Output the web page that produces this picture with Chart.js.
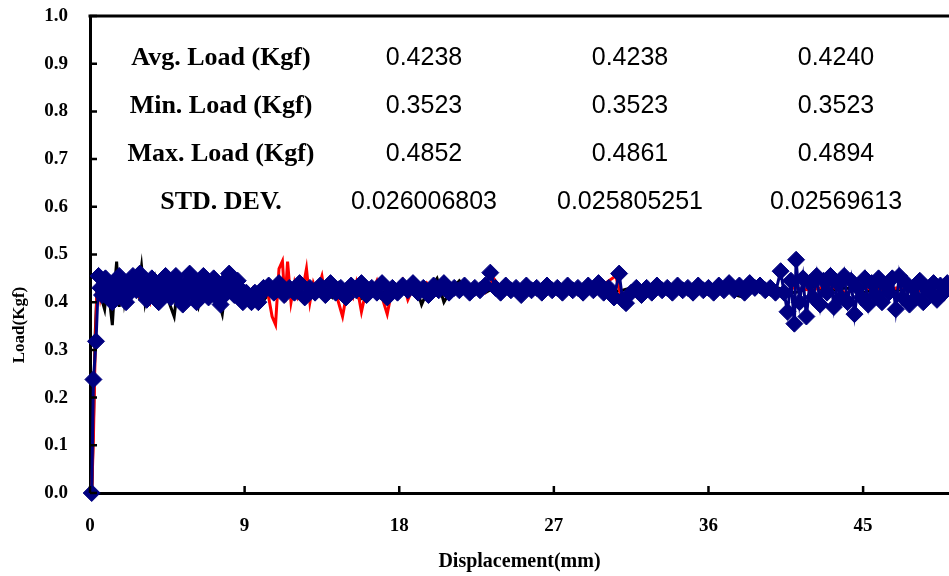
<!DOCTYPE html>
<html>
<head>
<meta charset="utf-8">
<script src="https://cdn.jsdelivr.net/npm/chart.js@4.4.1/dist/chart.umd.min.js"></script>
<style>
  html, body { margin: 0; padding: 0; background: #fff; }
  #wrap { width: 949px; height: 576px; }
</style>
</head>
<body>
<div id="wrap"><canvas id="loadChart" width="949" height="576"></canvas></div>
<script>
// Axis ticks
const xTicks = [0, 9, 18, 27, 36, 45];
const yTicks = [0, 0.1, 0.2, 0.3, 0.4, 0.5, 0.6, 0.7, 0.8, 0.9, 1.0];

// Summary table (one column per specimen)
const rowLabels = ['Avg. Load (Kgf)', 'Min. Load (Kgf)', 'Max. Load (Kgf)', 'STD. DEV.'];
const col1 = ['0.4238', '0.3523', '0.4852', '0.026006803'];
const col2 = ['0.4238', '0.3523', '0.4861', '0.025805251'];
const col3 = ['0.4240', '0.3523', '0.4894', '0.02569613'];

// Specimen 1 (black)
const blackX = [0.1, 0.2, 0.3, 0.4, 0.5, 0.65, 0.85, 1.0, 1.15, 1.3, 1.45, 1.55, 1.7, 1.85, 2.0, 2.2, 2.4, 2.6, 2.8, 3.0,
  3.2, 3.4, 3.6, 3.8, 4.0, 4.3, 4.6, 4.9, 5.1, 5.4, 5.7, 6.0, 6.3, 6.6, 6.9, 7.2, 7.5, 7.7, 7.9, 8.2,
  8.5, 8.8, 9.1, 9.4, 9.7, 10.0, 10.5, 10.9, 11.3, 11.7, 12.1, 12.5, 12.9, 13.3, 13.7, 14.1, 14.5, 14.9, 15.3, 15.7,
  16.1, 16.5, 16.9, 17.3, 17.7, 18.1, 18.5, 19.0, 19.3, 19.6, 20.2, 20.6, 21.0, 21.5, 22.0, 22.5, 23.0, 23.5, 24.0, 25.0,
  26.0, 27.0, 28.0, 29.0, 30.0, 31.0, 32.0, 33.0, 34.0, 35.0, 36.0, 37.0, 37.6, 38.1, 38.5, 39.0, 40.0, 41.0, 42.0, 43.0,
  44.0, 45.0, 46.0, 47.0, 48.0, 49.0, 50.0];
const blackY = [0, 0.15, 0.33, 0.42, 0.45, 0.41, 0.385, 0.44, 0.40, 0.352, 0.44, 0.485, 0.39, 0.46, 0.40, 0.44, 0.41, 0.45, 0.42, 0.475,
  0.40, 0.44, 0.41, 0.45, 0.42, 0.44, 0.40, 0.37, 0.43, 0.41, 0.44, 0.42, 0.39, 0.44, 0.41, 0.43, 0.40, 0.375, 0.43, 0.415,
  0.44, 0.40, 0.43, 0.41, 0.42, 0.40, 0.42, 0.44, 0.41, 0.43, 0.42, 0.445, 0.41, 0.43, 0.42, 0.41, 0.44, 0.42, 0.43, 0.405,
  0.42, 0.435, 0.41, 0.43, 0.42, 0.44, 0.415, 0.43, 0.395, 0.42, 0.45, 0.40, 0.425, 0.445, 0.425, 0.43, 0.42, 0.43, 0.425, 0.43,
  0.42, 0.435, 0.425, 0.43, 0.42, 0.425, 0.435, 0.42, 0.43, 0.425, 0.43, 0.435, 0.415, 0.41, 0.43, 0.425, 0.43, 0.42, 0.43, 0.425,
  0.43, 0.42, 0.43, 0.425, 0.43, 0.42, 0.43];

// Specimen 2 (red)
const redX = [0.1, 0.2, 0.3, 0.4, 0.5, 0.6, 0.8, 1.0, 1.2, 1.4, 1.6, 1.8, 2.0, 2.3, 2.6, 2.9, 3.2, 3.5, 3.8, 4.1,
  4.4, 4.7, 5.0, 5.3, 5.6, 5.9, 6.2, 6.5, 6.8, 7.1, 7.4, 7.7, 8.0, 8.3, 8.6, 8.9, 9.2, 9.5, 9.8, 10.1,
  10.4, 10.6, 10.8, 11.0, 11.2, 11.35, 11.5, 11.7, 11.9, 12.1, 12.4, 12.6, 12.8, 13.0, 13.2, 13.5, 13.7, 14.0, 14.3, 14.7,
  15.0, 15.3, 15.5, 15.8, 16.1, 16.4, 16.7, 17.0, 17.3, 17.6, 17.9, 18.2, 18.5, 18.8, 19.2, 19.6, 20.0, 21.0, 22.0, 23.0,
  23.5, 24.0, 25.0, 26.0, 27.0, 28.0, 29.0, 30.0, 30.6, 31.0, 31.5, 32.0, 33.0, 34.0, 35.0, 36.0, 37.0, 38.0, 39.0, 40.0,
  41.0, 42.0, 43.0, 44.0, 45.0, 46.0, 47.0, 48.0, 49.0, 50.0];
const redY = [0, 0.12, 0.30, 0.42, 0.44, 0.41, 0.45, 0.42, 0.44, 0.40, 0.43, 0.41, 0.45, 0.42, 0.44, 0.41, 0.43, 0.40, 0.44, 0.42,
  0.45, 0.41, 0.43, 0.40, 0.44, 0.42, 0.45, 0.41, 0.43, 0.42, 0.45, 0.41, 0.44, 0.42, 0.40, 0.43, 0.41, 0.43, 0.42, 0.44,
  0.41, 0.37, 0.353, 0.47, 0.486, 0.40, 0.485, 0.40, 0.44, 0.41, 0.43, 0.47, 0.40, 0.44, 0.42, 0.455, 0.41, 0.44, 0.42, 0.37,
  0.43, 0.41, 0.44, 0.38, 0.43, 0.42, 0.445, 0.41, 0.375, 0.43, 0.42, 0.445, 0.405, 0.43, 0.42, 0.44, 0.42, 0.425, 0.435, 0.42,
  0.45, 0.425, 0.43, 0.42, 0.435, 0.425, 0.43, 0.44, 0.455, 0.40, 0.43, 0.425, 0.43, 0.42, 0.435, 0.425, 0.43, 0.425, 0.43, 0.42,
  0.43, 0.425, 0.435, 0.42, 0.43, 0.425, 0.43, 0.42, 0.435, 0.425];

// Specimen 3 (navy diamonds)
const blueX = [0.1, 0.2, 0.35,
  0.5, 0.6, 0.7, 0.8, 0.9, 1.0, 1.1, 1.2, 1.3, 1.4, 1.5, 1.6, 1.7, 1.8, 1.9, 2.0, 2.1, 2.2, 2.3, 2.4,
  2.5, 2.6, 2.7, 2.8, 2.9, 3.0, 3.1, 3.2, 3.3, 3.4, 3.5, 3.6, 3.7, 3.8, 3.9, 4.0, 4.1, 4.2, 4.3, 4.4,
  4.5, 4.6, 4.7, 4.8, 4.9, 5.0, 5.1, 5.2, 5.3, 5.4, 5.5, 5.6, 5.7, 5.8, 5.9, 6.0, 6.1, 6.2, 6.3, 6.4,
  6.5, 6.6, 6.7, 6.8, 6.9, 7.0, 7.1, 7.2, 7.3, 7.4, 7.5, 7.6, 7.7, 7.8, 7.9, 8.0, 8.1, 8.2, 8.3, 8.4,
  8.5, 8.6, 8.7, 8.8, 8.9, 9.0, 9.1, 9.2, 9.3, 9.4, 9.5, 9.6, 9.7, 9.8, 9.9,
  10.1, 10.4, 10.7, 11.0, 11.3, 11.6, 11.9, 12.2, 12.5,
  12.8, 13.1, 13.4, 13.7, 14.0, 14.3, 14.6, 14.9, 15.2, 15.5, 15.8, 16.1, 16.4, 16.7, 17.0, 17.3, 17.6, 17.9, 18.2, 18.5,
  18.8, 19.1, 19.4, 19.7, 20.0, 20.3, 20.6, 20.9, 21.2, 21.5, 21.8, 22.1, 22.4, 22.7, 23.0, 23.3, 23.6, 23.9, 24.2, 24.5,
  24.8, 25.1, 25.4, 25.7, 26.0, 26.3, 26.6, 26.9, 27.2, 27.5, 27.8, 28.1, 28.4, 28.7, 29.0, 29.3, 29.6, 29.9, 30.2, 30.5,
  30.8, 31.0, 31.2, 31.5, 31.8, 32.1, 32.4, 32.7, 33.0, 33.3, 33.6, 33.9, 34.2, 34.5, 34.8, 35.1, 35.4, 35.7, 36.0, 36.3,
  36.6, 36.9, 37.2, 37.5, 37.8, 38.1, 38.4, 38.7, 39.0, 39.3, 39.6, 39.9, 40.2, 40.4, 40.6, 40.8, 41.0, 41.1, 41.3, 41.5,
  41.7, 41.9, 42.1, 42.3, 42.5, 42.7, 42.9, 43.1, 43.3, 43.5, 43.7, 43.9, 44.1, 44.3, 44.5, 44.7, 44.9, 45.1, 45.3, 45.5,
  45.7, 45.9, 46.1, 46.3, 46.5, 46.7, 46.9, 47.1, 47.3, 47.5, 47.7, 47.9, 48.1, 48.3, 48.5, 48.7, 48.9, 49.1, 49.3, 49.5,
  49.7, 49.9];
const blueY = [0, 0.238, 0.318,
  0.455, 0.43, 0.415, 0.43, 0.45, 0.44, 0.42, 0.405, 0.40, 0.415, 0.43, 0.445, 0.455, 0.44, 0.425, 0.41, 0.40, 0.415, 0.43, 0.445,
  0.455, 0.44, 0.425, 0.445, 0.46, 0.445, 0.43, 0.415, 0.405, 0.42, 0.435, 0.45, 0.44, 0.425, 0.41, 0.40, 0.415, 0.43, 0.445, 0.455,
  0.44, 0.425, 0.41, 0.42, 0.435, 0.455, 0.44, 0.42, 0.405, 0.395, 0.41, 0.43, 0.445, 0.46, 0.445, 0.43, 0.415, 0.40, 0.41, 0.425,
  0.44, 0.455, 0.44, 0.425, 0.41, 0.42, 0.435, 0.45, 0.44, 0.42, 0.405, 0.395, 0.41, 0.425, 0.44, 0.45, 0.46, 0.445, 0.43, 0.415,
  0.43, 0.445, 0.43, 0.415, 0.40, 0.41, 0.42, 0.415, 0.405, 0.40, 0.41, 0.42, 0.41, 0.40, 0.415,
  0.43, 0.435, 0.42, 0.44, 0.415, 0.43, 0.42, 0.44, 0.41,
  0.43, 0.42, 0.435, 0.415, 0.44, 0.42, 0.43, 0.41, 0.435, 0.425, 0.44, 0.415, 0.43, 0.42, 0.44, 0.41, 0.43, 0.42, 0.435, 0.425,
  0.44, 0.42, 0.43, 0.415, 0.435, 0.425, 0.44, 0.42, 0.43, 0.425, 0.435, 0.42, 0.43, 0.425, 0.435, 0.462, 0.43, 0.42, 0.435, 0.425,
  0.43, 0.415, 0.435, 0.425, 0.43, 0.42, 0.435, 0.425, 0.43, 0.42, 0.435, 0.425, 0.43, 0.42, 0.435, 0.425, 0.44, 0.42, 0.43, 0.41,
  0.46, 0.405, 0.398, 0.42, 0.43, 0.415, 0.43, 0.42, 0.435, 0.425, 0.43, 0.42, 0.435, 0.425, 0.43, 0.42, 0.435, 0.425, 0.43, 0.42,
  0.435, 0.425, 0.44, 0.425, 0.435, 0.42, 0.44, 0.43, 0.435, 0.425, 0.43, 0.42, 0.465, 0.42, 0.38, 0.445, 0.355, 0.489, 0.40, 0.45,
  0.37, 0.44, 0.41, 0.455, 0.395, 0.445, 0.42, 0.455, 0.39, 0.44, 0.41, 0.455, 0.40, 0.445, 0.375, 0.43, 0.41, 0.45, 0.395, 0.44,
  0.415, 0.45, 0.40, 0.435, 0.42, 0.45, 0.385, 0.455, 0.41, 0.44, 0.395, 0.43, 0.41, 0.445, 0.40, 0.43, 0.42, 0.44, 0.405, 0.435,
  0.42, 0.44];

const toPoints = (xs, ys) => xs.map((x, i) => ({ x, y: ys[i] }));

// Inside tick marks, top border, summary table and y title
const decorPlugin = {
  id: 'decor',
  afterDraw(chart) {
    const { ctx, chartArea, scales } = chart;
    ctx.save();
    ctx.strokeStyle = '#000';
    ctx.lineWidth = 3;
    ctx.beginPath();
    ctx.moveTo(chartArea.left - 1.5, chartArea.top);
    ctx.lineTo(chartArea.right, chartArea.top);
    ctx.stroke();

    ctx.lineWidth = 2.5;
    ctx.beginPath();
    yTicks.forEach(v => {
      const y = scales.y.getPixelForValue(v);
      ctx.moveTo(chartArea.left, y);
      ctx.lineTo(chartArea.left + 7, y);
    });
    xTicks.forEach(v => {
      const x = scales.x.getPixelForValue(v);
      ctx.moveTo(x, chartArea.bottom);
      ctx.lineTo(x, chartArea.bottom - 7);
    });
    ctx.stroke();

    // summary table
    const rowsY = [65, 113, 161, 209];
    ctx.fillStyle = '#000';
    ctx.textAlign = 'center';
    ctx.textBaseline = 'alphabetic';
    ctx.font = 'bold 26px "Liberation Serif"';
    rowLabels.forEach((t, i) => ctx.fillText(t, 221, rowsY[i]));
    ctx.font = '25px "Liberation Sans"';
    [col1, col2, col3].forEach((col, c) => {
      const cx = [424, 630, 836][c];
      col.forEach((t, i) => ctx.fillText(t, cx, rowsY[i]));
    });

    // y axis title
    ctx.translate(20, 325);
    ctx.rotate(-Math.PI / 2);
    ctx.font = 'bold 17px "Liberation Serif"';
    ctx.textBaseline = 'middle';
    ctx.fillText('Load(Kgf)', 0, 0);
    ctx.restore();
  }
};

const tickFont = { family: 'Liberation Serif', size: 19, weight: 'bold' };

new Chart(document.getElementById('loadChart'), {
  type: 'line',
  data: {
    datasets: [
      {
        label: 'Specimen 3', data: toPoints(blueX, blueY), order: 1,
        borderColor: '#000080', backgroundColor: '#000080', borderWidth: 3,
        pointStyle: 'rectRot', pointRadius: 8.5, pointBorderWidth: 1, tension: 0, clip: false
      },
      {
        label: 'Specimen 2', data: toPoints(redX, redY), order: 2,
        borderColor: '#ff0000', borderWidth: 3, pointRadius: 0, tension: 0, clip: false
      },
      {
        label: 'Specimen 1', data: toPoints(blackX, blackY), order: 3,
        borderColor: '#000000', borderWidth: 3, pointRadius: 0, tension: 0, clip: false
      }
    ]
  },
  options: {
    responsive: false,
    animation: false,
    events: [],
    layout: { autoPadding: false, padding: { top: 16, right: 0, left: 0, bottom: 0 } },
    plugins: { legend: { display: false }, tooltip: { enabled: false } },
    scales: {
      x: {
        type: 'linear', min: 0, max: 50,
        afterBuildTicks: s => { s.ticks = xTicks.map(v => ({ value: v })); },
        afterFit: s => { s.height = 83; s.paddingLeft = 0; s.paddingRight = 0; },
        grid: { display: false, drawTicks: false },
        border: { display: true, color: '#000', width: 3 },
        ticks: { font: tickFont, color: '#000', padding: 22, maxRotation: 0 },
        title: { display: true, text: 'Displacement(mm)', color: '#000',
          font: { family: 'Liberation Serif', size: 20, weight: 'bold' }, padding: { top: 0, bottom: 2 } }
      },
      y: {
        type: 'linear', min: 0, max: 1,
        afterBuildTicks: s => { s.ticks = yTicks.map(v => ({ value: v })); },
        afterFit: s => { s.width = 90; s.paddingTop = 0; s.paddingBottom = 0; },
        grid: { display: false, drawTicks: false },
        border: { display: true, color: '#000', width: 3 },
        ticks: { font: tickFont, color: '#000', padding: 22, callback: v => v.toFixed(1) }
      }
    }
  },
  plugins: [decorPlugin]
});
</script>
</body>
</html>
